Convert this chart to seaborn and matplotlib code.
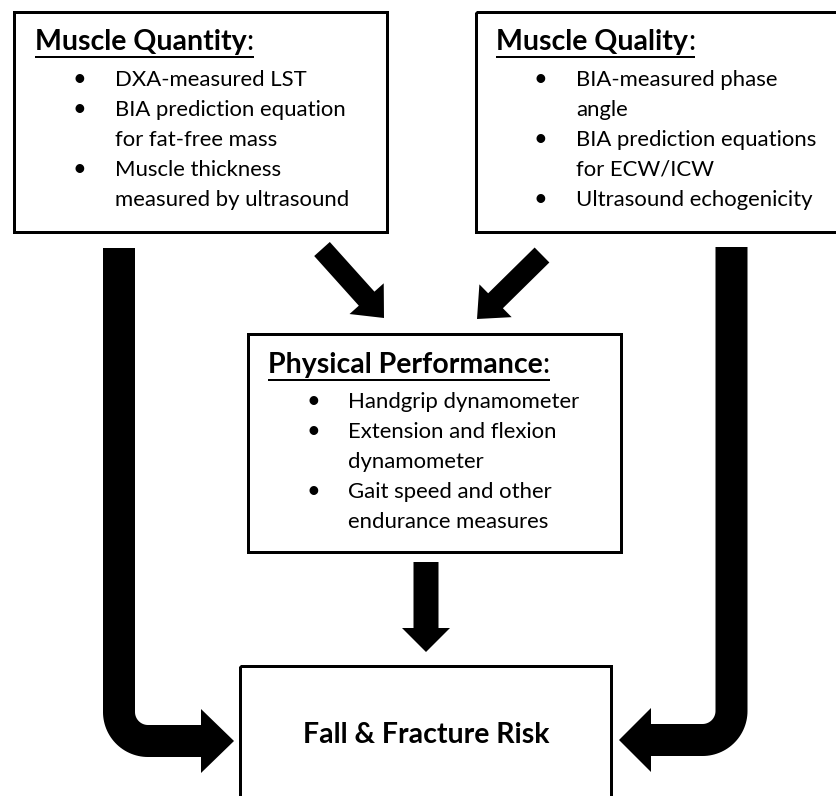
import numpy as np
import seaborn as sns
import matplotlib
matplotlib.use('Agg')
from matplotlib import pyplot as plt
from matplotlib.patches import Rectangle, Polygon, FancyArrow

# box contents
quantity_title = "Muscle Quantity"
quantity_items = [["DXA-measured LST"],
                  ["BIA prediction equation", "for fat-free mass"],
                  ["Muscle thickness", "measured by ultrasound"]]
quality_title = "Muscle Quality"
quality_items = [["BIA-measured phase", "angle"],
                 ["BIA prediction equations", "for ECW/ICW"],
                 ["Ultrasound echogenicity"]]
performance_title = "Physical Performance"
performance_items = [["Handgrip dynamometer"],
                     ["Extension and flexion", "dynamometer"],
                     ["Gait speed and other", "endurance measures"]]
outcome_label = "Fall & Fracture Risk"

W, H, DPI = 836, 796, 100
FONT = "Lato"
BODY_SIZE = 15.9
HEAD_SIZE = 20.5
LINE_H = 30
PX = 72 / DPI  # points per pixel

sns.set_theme(style="white")
plt.rcParams['font.family'] = [FONT, 'DejaVu Sans']

fig = plt.figure(figsize=(W / DPI, H / DPI), dpi=DPI)
ax = fig.add_axes([0, 0, 1, 1])
ax.set_xlim(0, W)
ax.set_ylim(H, 0)
ax.axis('off')

headers = []


def draw_box(x0, y0, x1, y1, lw=3):
    ax.add_patch(Rectangle((x0, y0), x1 - x0, y1 - y0, fill=False,
                           edgecolor='black', linewidth=lw * PX, zorder=3))


def draw_list(title, items, head_x, head_base, bullet_x, text_x, first_base):
    t = ax.text(head_x, head_base, title, fontsize=HEAD_SIZE, fontweight='bold',
                ha='left', va='baseline', color='black')
    headers.append((t, head_base))
    y = first_base
    for item in items:
        ax.text(bullet_x, y, "\u2022", fontsize=BODY_SIZE + 1, ha='center',
                va='baseline', color='black')
        for line in item:
            ax.text(text_x, y, line, fontsize=BODY_SIZE, ha='left',
                    va='baseline', color='black')
            y += LINE_H


# boxes
draw_box(14, 12, 387, 232)
draw_box(476, 12, 839, 232)
draw_box(248, 334, 621, 552)
draw_box(240, 666, 611, 805)

draw_list(quantity_title, quantity_items, 35, 50, 79, 115, 86)
draw_list(quality_title, quality_items, 496, 50, 540, 576, 86)
draw_list(performance_title, performance_items, 268, 373, 313, 348, 408)

ax.text(426, 743, outcome_label, fontsize=20.5, fontweight='bold',
        ha='center', va='baseline', color='black')

# straight arrows
for (sx, sy, ex, ey, w, hw, hl) in [(322, 249, 384, 318, 21, 46, 26),
                                    (542, 255, 477, 319, 21, 46, 26),
                                    (426, 562, 426, 652, 25, 48, 24)]:
    ax.add_patch(FancyArrow(sx, sy, ex - sx, ey - sy, width=w, head_width=hw,
                            head_length=hl, length_includes_head=True,
                            color='black', linewidth=0, zorder=3))


# bent arrows on the sides
def bent_arrow(vx, top, hy, head_base, tip, r=29, bar=32, half_head=32):
    side = 1 if tip > vx else -1
    cx, cy = vx + side * r, hy - r
    if side == 1:
        t = np.linspace(np.pi, np.pi / 2, 30)
    else:
        t = np.linspace(0, np.pi / 2, 30)
    xs = np.concatenate([[vx], cx + r * np.cos(t), [head_base + side * 1]])
    ys = np.concatenate([[top], cy + r * np.sin(t), [hy]])
    ax.plot(xs, ys, color='black', linewidth=bar * PX, solid_capstyle='butt',
            solid_joinstyle='round', zorder=3)
    ax.add_patch(Polygon([(head_base, hy - half_head), (tip, hy),
                          (head_base, hy + half_head)], closed=True,
                         color='black', linewidth=0, zorder=3))


bent_arrow(119, 248, 741, 201, 234)
bent_arrow(731.5, 247, 740, 651, 619)

# underline the headers and add a regular-weight colon
fig.canvas.draw()
renderer = fig.canvas.get_renderer()
inv = ax.transData.inverted()
for t, base in headers:
    bb = t.get_window_extent(renderer=renderer)
    (x0, _), (x1, _) = inv.transform([(bb.x0, 0), (bb.x1, 0)])
    c = ax.text(x1, base, ":", fontsize=HEAD_SIZE, ha='left', va='baseline',
                color='black')
    cb = c.get_window_extent(renderer=renderer)
    (cx1, _), = inv.transform([(cb.x1, 0)])
    ax.plot([x0, cx1], [base + 6.5, base + 6.5], color='black',
            linewidth=2 * PX, solid_capstyle='butt')

fig.savefig("out.png", dpi=DPI, facecolor='white')
